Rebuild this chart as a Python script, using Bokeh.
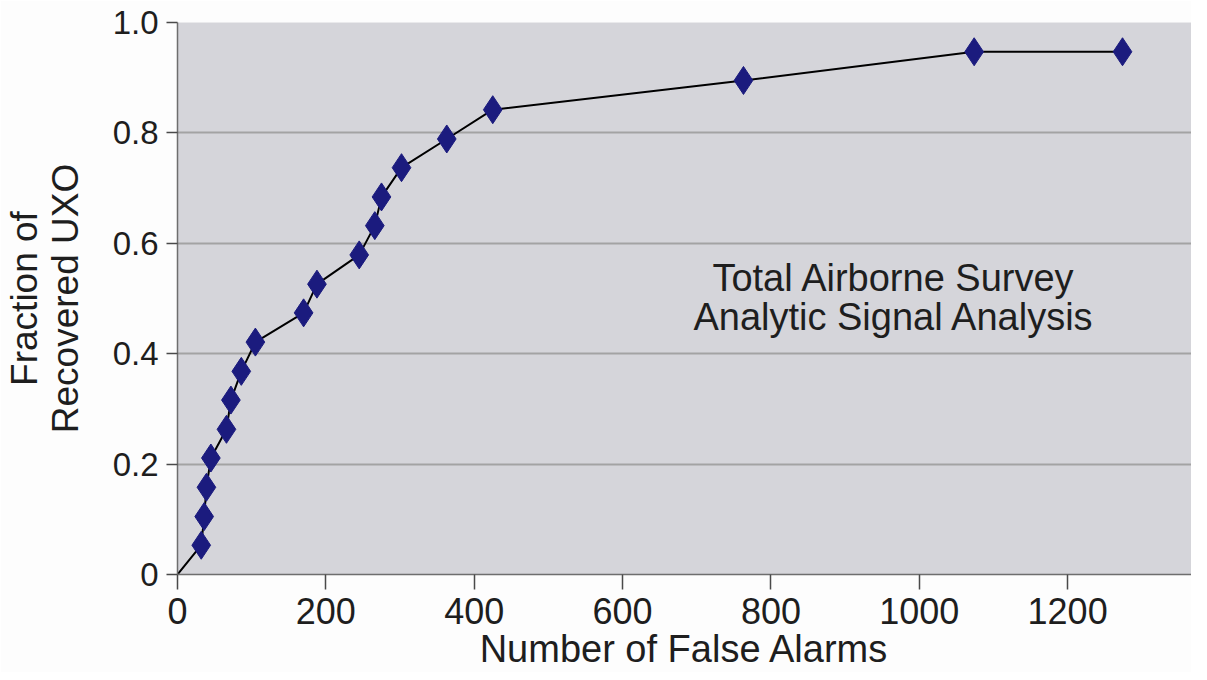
from bokeh.plotting import figure
from bokeh.models import Range1d, FixedTicker, Label
from bokeh.embed import file_html
from bokeh.resources import INLINE

# Data
false_alarms = [32, 36, 39, 45, 66, 72, 86, 105, 170, 188, 245, 266, 275, 302, 363, 425, 763, 1074, 1274]
fraction_recovered = [0.053, 0.105, 0.158, 0.211, 0.263, 0.316, 0.368, 0.421, 0.474, 0.526,
                      0.579, 0.632, 0.684, 0.737, 0.789, 0.842, 0.895, 0.947, 0.947]
origin_x = [0]
origin_y = [0.0]
x_ticks = [0, 200, 400, 600, 800, 1000, 1200]
y_ticks = [0, 0.2, 0.4, 0.6, 0.8, 1.0]
y_tick_labels = ["0", "0.2", "0.4", "0.6", "0.8", "1.0"]
annotation_lines = ["Total Airborne Survey", "Analytic Signal Analysis"]

FONT = "Liberation Sans"
TEXT = "#1e1e1e"

p = figure(width=1191, height=672, output_backend="svg", toolbar_location=None,
           x_range=Range1d(0, 1367), y_range=Range1d(0, 1.0),
           min_border_left=168, min_border_right=0, min_border_top=22, min_border_bottom=96)

p.background_fill_color = "#d5d5da"
p.border_fill_color = "#fdfdfd"
p.outline_line_color = None

p.xgrid.grid_line_color = None
p.ygrid.grid_line_color = "#a3a3a3"
p.ygrid.grid_line_width = 2
p.ygrid.ticker = FixedTicker(ticks=y_ticks)

p.xaxis.ticker = FixedTicker(ticks=x_ticks)
p.yaxis.ticker = FixedTicker(ticks=y_ticks)
p.yaxis.major_label_overrides = {t: l for t, l in zip(y_ticks, y_tick_labels)}

for ax in (p.xaxis, p.yaxis):
    ax.axis_line_color = "#6e6e6e"
    ax.axis_line_width = 1.5
    ax.major_tick_line_color = "#4a4a4a"
    ax.major_tick_line_width = 1.5
    ax.major_tick_in = 0
    ax.minor_tick_line_color = None
    ax.major_label_text_font = FONT
    ax.major_label_text_color = TEXT
    ax.axis_label_text_font = FONT
    ax.axis_label_text_color = TEXT
    ax.axis_label_text_font_style = "normal"

p.xaxis.major_tick_out = 15
p.yaxis.major_tick_out = 11
p.xaxis.major_label_text_font_size = "36px"
p.yaxis.major_label_text_font_size = "33px"
p.xaxis.major_label_standoff = 8
p.yaxis.major_label_standoff = 8
p.xaxis.axis_label = "Number of False Alarms"
p.yaxis.axis_label = "Fraction of\nRecovered UXO"
p.xaxis.axis_label_text_font_size = "38px"
p.yaxis.axis_label_text_font_size = "37px"
p.xaxis.axis_label_text_line_height = 1.0
p.yaxis.axis_label_text_line_height = 1.0
p.xaxis.axis_label_standoff = 1
p.yaxis.axis_label_standoff = 24

p.line(origin_x + false_alarms, origin_y + fraction_recovered, line_color="black", line_width=2)
p.scatter(false_alarms, fraction_recovered, marker="diamond", size=28,
          fill_color="#1b1b7e", line_color="#1b1b7e")

p.add_layout(Label(x=966, y=0.538, text=annotation_lines[0], text_align="center",
                   text_baseline="alphabetic", text_font=FONT, text_font_size="38px", text_color=TEXT))
p.add_layout(Label(x=966, y=0.467, text=annotation_lines[1], text_align="center",
                   text_baseline="alphabetic", text_font=FONT, text_font_size="38px", text_color=TEXT))

open("out.html", "w").write(file_html(p, INLINE))
